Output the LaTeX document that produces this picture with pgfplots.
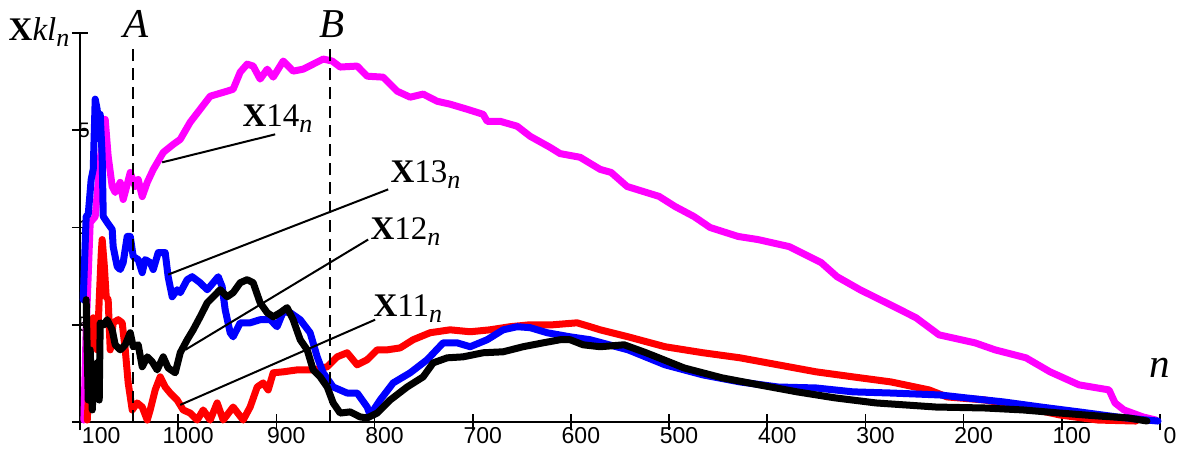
\documentclass[border=0pt]{standalone}
\usepackage{fontspec}
\setmainfont{Liberation Serif}
\setsansfont{Liberation Sans}
\usepackage{pgfplots}
\pgfplotsset{compat=1.18}
\definecolor{mag}{RGB}{255,0,255}
\newcommand{\sub}[1]{\raisebox{-3pt}{\fontsize{13}{13}\selectfont\itshape #1}}
\newcommand{\lab}[1]{{\fontsize{16.5}{18}\selectfont\textbf{X}#1\sub{n}}}

\begin{document}
\begin{tikzpicture}
\begin{axis}[
  at={(0,0)}, anchor=south west,
  scale only axis, width=540pt, height=194.5pt,
  x dir=reverse, xmin=0, xmax=1100, ymin=0, ymax=0.2,
  axis x line=bottom, axis y line=left,
  axis line style={-, line width=0.8pt},
  xtick={0,100,...,1100},
  xticklabels={0,100,200,300,400,500,600,700,800,900,1000,\makebox[0pt][l]{\hspace{-4pt}100}},
  ytick={0,0.05,0.1,0.15,0.2},
  yticklabels={{},5,1,5,{}},
  tick align=center, major tick length=8pt,
  tick style={line width=0.8pt, black},
  /pgf/number format/assume math mode=true,
  xticklabel style={font=\sffamily\fontsize{11.5}{11.5}\selectfont, xshift=5pt, yshift=2.5pt, inner sep=1pt},
  yticklabel style={font=\sffamily\fontsize{10.5}{10.5}\selectfont, anchor=center, xshift=6pt},
  clip=false,
  every axis plot/.append style={line width=3.5pt, line join=round, line cap=round, no markers},
]
% X14
\addplot[mag] coordinates {
(1096,0.001) (1093.7,0.0474) (1089.6,0.1025) (1084.5,0.1056) (1079.4,0.1350) (1074.3,0.1556)
(1071.3,0.1366) (1067.2,0.1211) (1064.1,0.1180) (1059.0,0.1232) (1056.0,0.1144) (1051.9,0.1221)
(1048.8,0.1283) (1043.8,0.1211) (1040.7,0.1247) (1036.6,0.1159) (1031.5,0.1232) (1025.4,0.1298)
(1015.2,0.1386) (1005.1,0.1427) (997.9,0.1453) (987.8,0.1541) (977.6,0.1608) (967.4,0.1675)
(950.1,0.1701) (944.0,0.1711) (936.8,0.1799) (929.7,0.1840) (923.6,0.1830) (916.5,0.1763)
(909.3,0.1814) (903.2,0.1773) (893.0,0.1856) (882.9,0.1804) (872.7,0.1814) (862.5,0.1840)
(852.3,0.1866) (843.2,0.1856) (835.0,0.1825) (817.7,0.1830) (807.5,0.1778) (791.2,0.1773)
(777.0,0.1701) (763.7,0.1670) (750.5,0.1686) (736.2,0.1649) (723.0,0.1634) (705.7,0.1608)
(689.4,0.1582) (685.3,0.1546) (672.1,0.1546) (654.8,0.1521) (641.5,0.1469) (621.2,0.1412)
(611.0,0.1380) (590.6,0.1361) (570.2,0.1299) (559.0,0.1283) (542.8,0.1211) (510.2,0.1160)
(493.9,0.1108) (474.5,0.1056) (458.2,0.1000) (429.7,0.0954) (409.4,0.0938) (377.8,0.0902)
(361.5,0.0861) (345.2,0.0820) (328.9,0.0747) (305.5,0.0680) (289.2,0.0639) (268.8,0.0588)
(248.5,0.0536) (225.0,0.0448) (188.4,0.0407) (168.0,0.0371) (136.5,0.0330) (112.0,0.0258)
(82.5,0.0191) (51.9,0.0165) (45.8,0.0098) (36.7,0.0062) (17.3,0.0026) (4.1,0.0010)
};
% X11
\addplot[red] coordinates {
(1092.6,0.0010) (1090.6,0.0216) (1088.6,0.0448) (1086.5,0.0536) (1084.5,0.0474) (1082.5,0.0371)
(1080.4,0.0629) (1078.4,0.0861) (1077.4,0.0938) (1075.3,0.0809) (1073.3,0.0644) (1071.3,0.0629)
(1069.2,0.0371) (1066.2,0.0510) (1061.1,0.0526) (1057.0,0.0510) (1053.9,0.0371) (1050.9,0.0201)
(1046.8,0.0062) (1041.7,0.0098) (1036.6,0.0077) (1031.5,0.0010) (1028.5,0.0062) (1023.4,0.0165)
(1018.3,0.0232) (1013.2,0.0180) (1008.1,0.0149) (1001.0,0.0113) (994.9,0.0062) (987.8,0.0046)
(980.6,0.0010) (974.5,0.0062) (967.4,0.0010) (960.3,0.0098) (954.1,0.0010) (944.0,0.0077)
(933.8,0.0010) (926.7,0.0077) (919.5,0.0180) (913.4,0.0201) (908.3,0.0165) (903.2,0.0253)
(893.0,0.0258) (878.8,0.0268) (862.5,0.0268) (848.2,0.0284) (838.1,0.0335) (827.9,0.0356)
(817.7,0.0294) (807.5,0.0320) (797.3,0.0371) (787.1,0.0371) (773.9,0.0381) (760.7,0.0423)
(743.4,0.0459) (723.0,0.0474) (702.6,0.0464) (682.3,0.0474) (661.9,0.0490) (641.5,0.0500)
(618.1,0.0500) (593.7,0.0510) (580.4,0.0490) (570.2,0.0474) (541.7,0.0438) (504.1,0.0387)
(465.4,0.0356) (427.7,0.0330) (389.0,0.0294) (350.3,0.0258) (312.6,0.0232) (273.9,0.0206)
(235.2,0.0165) (216.9,0.0129) (178.2,0.0113) (139.5,0.0077) (101.8,0.0036) (63.1,0.0010)
(24.4,0.0005)
};
% X13
\addplot[blue] coordinates {
(1096.7,0.0629) (1093.7,0.1057) (1091.6,0.1067) (1088.6,0.1247) (1086.5,0.1299) (1084.5,0.1660)
(1082.5,0.1608) (1081.4,0.1541) (1079.4,0.1582) (1077.4,0.1366) (1076.3,0.1057) (1072.3,0.1026)
(1067.2,0.0990) (1066.2,0.0902) (1062.1,0.0799) (1059.0,0.0784) (1056.0,0.0820) (1051.9,0.0954)
(1048.8,0.0954) (1045.8,0.0851) (1040.7,0.0835) (1036.6,0.0768) (1033.6,0.0835) (1028.5,0.0820)
(1025.4,0.0784) (1020.3,0.0871) (1013.2,0.0871) (1010.2,0.0747) (1006.1,0.0644) (1001.0,0.0680)
(997.9,0.0665) (990.8,0.0732) (985.7,0.0747) (977.6,0.0716) (970.4,0.0680) (964.3,0.0716)
(959.2,0.0747) (955.2,0.0696) (952.1,0.0577) (947.0,0.0459) (944.0,0.0438) (936.8,0.0510)
(926.7,0.0510) (916.5,0.0526) (906.3,0.0526) (899.2,0.0490) (893.0,0.0567) (885.9,0.0562)
(875.7,0.0526) (865.6,0.0459) (858.4,0.0335) (852.3,0.0253) (842.1,0.0180) (827.9,0.0149)
(817.7,0.0149) (807.5,0.0077) (804.5,0.0036) (794.3,0.0113) (781.0,0.0201) (763.7,0.0253)
(746.4,0.0320) (730.1,0.0407) (715.9,0.0407) (702.6,0.0387) (685.3,0.0423) (669.0,0.0474)
(654.8,0.0490) (641.5,0.0485) (624.2,0.0459) (600.8,0.0438) (580.4,0.0423) (541.7,0.0371)
(504.1,0.0294) (465.4,0.0242) (427.7,0.0206) (389.0,0.0180) (350.3,0.0175) (312.6,0.0155)
(273.9,0.0149) (224.0,0.0139) (197.6,0.0124) (158.9,0.0103) (121.2,0.0077) (82.5,0.0052)
(43.8,0.0026) (13.2,0.0010) (2.0,0.0005)
};
% X12
\addplot[black] coordinates {
(1093.7,0.0629) (1091.6,0.0113) (1089.6,0.0371) (1087.5,0.0062) (1085.5,0.0268) (1082.5,0.0304)
(1080.4,0.0113) (1079.4,0.0510) (1075.3,0.0500) (1072.3,0.0526) (1067.2,0.0474) (1064.1,0.0397)
(1059.0,0.0371) (1053.9,0.0397) (1048.8,0.0459) (1045.8,0.0387) (1040.7,0.0397) (1036.6,0.0284)
(1031.5,0.0335) (1026.4,0.0309) (1021.4,0.0268) (1015.2,0.0335) (1010.2,0.0278) (1003.0,0.0253)
(997.9,0.0356) (990.8,0.0423) (984.7,0.0474) (977.6,0.0541) (970.4,0.0613) (964.3,0.0644)
(957.2,0.0680) (950.1,0.0644) (944.0,0.0665) (936.8,0.0716) (929.7,0.0732) (923.6,0.0716)
(916.5,0.0613) (909.3,0.0562) (903.2,0.0541) (896.1,0.0562) (889.0,0.0588) (882.9,0.0526)
(875.7,0.0423) (868.6,0.0371) (862.5,0.0268) (855.4,0.0232) (848.2,0.0180) (842.1,0.0098)
(835.0,0.0046) (824.8,0.0052) (814.6,0.0026) (807.5,0.0021) (797.3,0.0046) (784.1,0.0113)
(766.8,0.0180) (750.5,0.0232) (740.3,0.0304) (726.0,0.0330) (709.8,0.0335) (689.4,0.0356)
(669.0,0.0361) (648.7,0.0387) (628.3,0.0407) (611.0,0.0423) (600.8,0.0423) (587.6,0.0397)
(570.2,0.0387) (545.8,0.0397) (523.4,0.0356) (484.7,0.0278) (446.0,0.0227) (408.3,0.0191)
(369.6,0.0155) (330.9,0.0124) (289.2,0.0098) (228.1,0.0077) (178.2,0.0072) (139.5,0.0062)
(101.8,0.0046) (63.1,0.0031) (32.6,0.0021) (13.2,0.0005)
};
% guide lines A and B
\draw[line width=1pt, dash pattern=on 6pt off 3.5pt] (axis cs:1045.8,0) -- (axis cs:1045.8,0.1918);
\draw[line width=1pt, dash pattern=on 6pt off 3.5pt] (axis cs:845.2,0) -- (axis cs:845.2,0.1943);
\node[anchor=base, inner sep=0, font=\fontsize{20.5}{22}\selectfont\itshape] at (axis cs:1042.7,0.1979) {A};
\node[anchor=base, inner sep=0, font=\fontsize{20.5}{22}\selectfont\itshape] at (axis cs:843.2,0.1979) {B};
\node[anchor=base, inner sep=0, font=\fontsize{20.5}{22}\selectfont\itshape] at (axis cs:0,0.0227) {n};
\node[anchor=base west, inner sep=0] at (axis cs:1173,0.1959) {\fontsize{16.5}{18}\selectfont\textbf{X}\textit{kl}\sub{n}};
% leader lines
\draw[line width=1pt] (axis cs:1016.3,0.1335) -- (axis cs:901.2,0.1479);
\draw[line width=1pt] (axis cs:1010.2,0.0758) -- (axis cs:786.1,0.1196);
\draw[line width=1pt] (axis cs:992.8,0.0371) -- (axis cs:806.5,0.0938);
\draw[line width=1pt] (axis cs:997.9,0.0088) -- (axis cs:799.4,0.0526);
\node[anchor=base west, inner sep=0] at (axis cs:934.8,0.1521) {\lab{14}};
\node[anchor=base west, inner sep=0] at (axis cs:784.1,0.1232) {\lab{13}};
\node[anchor=base west, inner sep=0] at (axis cs:804.5,0.0938) {\lab{12}};
\node[anchor=base west, inner sep=0] at (axis cs:801.4,0.0541) {\lab{11}};
\end{axis}
\pgfresetboundingbox
\path (-40pt,-15pt) rectangle (552pt,211pt);
\end{tikzpicture}
\end{document}
